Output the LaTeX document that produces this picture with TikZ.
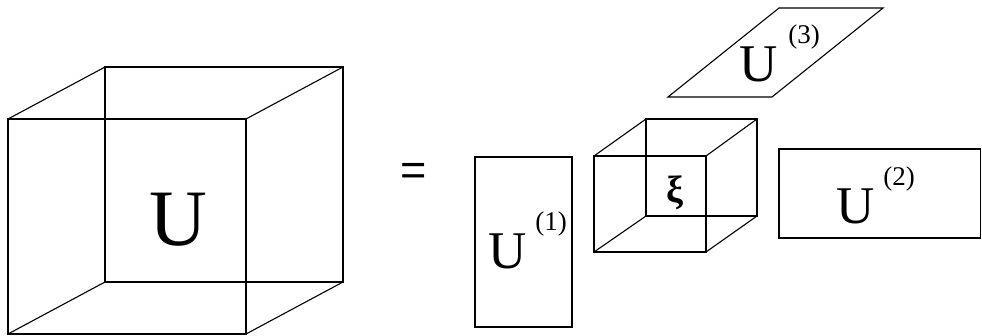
\documentclass[tikz,border=0pt]{standalone}
\usepackage{fontspec}
\setmainfont{Liberation Serif}
\newfontfamily\eqfont{Liberation Sans}
\begin{document}
\begin{tikzpicture}[x=1pt,y=-1pt,line width=1.1pt,line join=miter,
  edge/.style={draw=black},
  lbl/.style={inner sep=0pt,outer sep=0pt},
  bigU/.style={lbl,font=\fontsize{80}{80}\selectfont},
  midU/.style={lbl,font=\fontsize{53}{53}\selectfont},
  supr/.style={lbl,font=\fontsize{27}{27}\selectfont}]
\useasboundingbox (0,0) rectangle (982,336);
% big cube
\draw[edge] (8,119) rectangle (246,334);
\draw[edge] (105,67) rectangle (343,282);
\draw[edge] (8,119) -- (105,67) (246,119) -- (343,67)
            (8,334) -- (105,282) (246,334) -- (343,282);
\node[bigU] (U) at (178,220) {U};
% equals
\node[lbl,font=\eqfont\fontsize{45}{45}\selectfont] (eq) at (414,174.5) {=};
% U(1)
\draw[edge] (475,157) rectangle (572,327);
\node[midU] (U1) at (508,251) {U};
\node[supr] (s1) at (551,224) {(1)};
% core cube
\draw[edge] (594,156) rectangle (706,252);
\draw[edge] (646,119) rectangle (757,216);
\draw[edge] (594,156) -- (646,119) (706,156) -- (757,119)
            (594,252) -- (646,216) (706,252) -- (757,216);
\node[lbl,font=\bfseries\fontsize{38}{38}\selectfont] (xi) at (674.5,193) {ξ};
% U(3)
\draw[edge] (668,97) -- (772,97) -- (883,8) -- (779,8) -- cycle;
\node[midU] (U3) at (759,64) {U};
\node[supr] (s3) at (804,37) {(3)};
% U(2)
\draw[edge] (779,149) rectangle (980.5,238);
\node[midU] (U2) at (856,206) {U};
\node[supr] (s2) at (899,179) {(2)};
\end{tikzpicture}
\end{document}
